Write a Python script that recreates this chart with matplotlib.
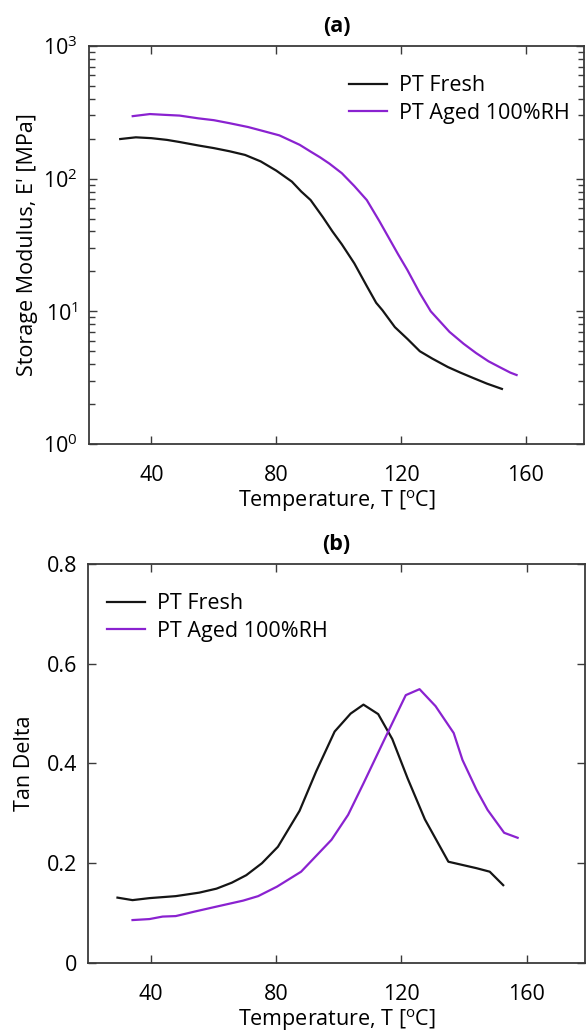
import matplotlib
matplotlib.use("Agg")
import matplotlib.pyplot as plt
from matplotlib.ticker import LogLocator, FixedLocator, NullFormatter

plt.rcParams["font.family"] = ["Open Sans", "DejaVu Sans"]
plt.rcParams["mathtext.fontset"] = "custom"
plt.rcParams["mathtext.rm"] = "Open Sans"
plt.rcParams["mathtext.it"] = "Open Sans"
plt.rcParams["mathtext.default"] = "regular"

# Storage modulus E' [MPa]
temp_fresh_e = [30, 35, 40, 45, 49, 55, 60, 65, 70, 75, 80, 85, 88, 91, 95, 98,
                101, 105, 109, 112, 114, 118, 122, 126, 130, 135, 139, 143, 147.5, 152.3]
e_fresh = [199, 205, 202, 196, 189, 178, 170, 161, 151, 135, 115, 95, 80, 69, 51, 40,
           32, 23, 15.5, 11.6, 10.2, 7.6, 6.2, 5.0, 4.4, 3.8, 3.45, 3.15, 2.85, 2.6]

temp_aged_e = [34, 39.5, 44, 49, 55, 60, 65, 71, 76, 81, 87.5, 91, 94, 97, 101, 105,
               109, 113, 116, 119, 122, 126, 129.5, 135.5, 140, 144, 148, 152, 155, 157]
e_aged = [296, 307, 303, 299, 285, 276, 262, 245, 228, 212, 180, 160, 145, 130, 110, 88,
          69, 48, 36, 27, 20.5, 13.7, 10.0, 7.0, 5.7, 4.85, 4.2, 3.75, 3.45, 3.31]

# Tan delta
temp_fresh_tan = [29.4, 34.2, 39.6, 48, 55.5, 61, 65.9, 70.5, 75.5, 80.6, 87.5, 92.8,
                  98.7, 103.8, 107.9, 112.6, 117.1, 122, 127.5, 135, 144, 148.2, 152.5]
tan_fresh = [0.131, 0.126, 0.130, 0.134, 0.141, 0.149, 0.161, 0.176, 0.200, 0.233,
             0.305, 0.384, 0.464, 0.500, 0.518, 0.499, 0.449, 0.370, 0.288, 0.203,
             0.190, 0.183, 0.156]

temp_aged_tan = [34.2, 39.6, 43.8, 48, 54, 61, 69.5, 74.3, 80.3, 88, 97.7, 103, 107.9,
                 114.5, 121.4, 125.8, 130.9, 136.7, 139.5, 144, 147.5, 152.8, 157.1]
tan_aged = [0.086, 0.088, 0.093, 0.094, 0.103, 0.113, 0.125, 0.134, 0.153, 0.183,
            0.247, 0.297, 0.360, 0.447, 0.537, 0.549, 0.515, 0.461, 0.407, 0.347,
            0.307, 0.261, 0.251]

x_ticks = [40, 80, 120, 160]
tan_ticks = [0, 0.2, 0.4, 0.6, 0.8]
tan_labels = ["0", "0.2", "0.4", "0.6", "0.8"]

BLACK = "#151515"
PURPLE = "#8a22d0"
SPINE = "#3a3a3a"
FS = 15.5

fig = plt.figure(figsize=(5.88, 10.32), dpi=100)
ax1 = fig.add_axes([0.1514, 0.5698, 0.9932 - 0.1514, 0.9554 - 0.5698])
ax2 = fig.add_axes([0.1497, 0.0669, 0.9949 - 0.1497, 0.4535 - 0.0669])

for ax in (ax1, ax2):
    for s in ax.spines.values():
        s.set_color(SPINE)
        s.set_linewidth(1.3)
    ax.tick_params(which="both", direction="in", top=True, right=True,
                   color=SPINE, labelsize=FS, width=1.0)
    ax.tick_params(which="major", length=6)
    ax.tick_params(which="minor", length=4)
    ax.tick_params(axis="x", which="major", pad=15)
    ax.tick_params(axis="y", which="major", pad=8)
    ax.set_xlim(20, 178.6)
    ax.xaxis.set_major_locator(FixedLocator(x_ticks))
    ax.set_xlabel("Temperature, T [$^{o}$C]", fontsize=FS, labelpad=2)

# (a) storage modulus
ax1.plot(temp_fresh_e, e_fresh, color=BLACK, lw=1.6, label="PT Fresh")
ax1.plot(temp_aged_e, e_aged, color=PURPLE, lw=1.6, label="PT Aged 100%RH")
ax1.set_yscale("log")
ax1.set_ylim(1, 1000)
ax1.yaxis.set_major_locator(LogLocator(base=10, numticks=10))
ax1.yaxis.set_minor_locator(LogLocator(base=10, subs=range(2, 10), numticks=10))
ax1.yaxis.set_minor_formatter(NullFormatter())
ax1.set_ylabel("Storage Modulus, E' [MPa]", fontsize=FS, labelpad=4)
ax1.set_title("(a)", fontsize=FS, fontweight="bold", pad=10)
ax1.legend(loc="upper right", bbox_to_anchor=(1.01, 0.975), frameon=False,
           fontsize=FS, handlelength=1.75, handletextpad=0.55, labelspacing=0.3)

# (b) tan delta
ax2.plot(temp_fresh_tan, tan_fresh, color=BLACK, lw=1.6, label="PT Fresh")
ax2.plot(temp_aged_tan, tan_aged, color=PURPLE, lw=1.6, label="PT Aged 100%RH")
ax2.set_ylim(0, 0.8)
ax2.yaxis.set_major_locator(FixedLocator(tan_ticks))
ax2.set_yticklabels(tan_labels)
ax2.set_ylabel("Tan Delta", fontsize=FS, labelpad=8)
ax2.set_title("(b)", fontsize=FS, fontweight="bold", pad=10)
ax2.legend(loc="upper left", bbox_to_anchor=(0.0, 0.975), frameon=False,
           fontsize=FS, handlelength=1.75, handletextpad=0.55, labelspacing=0.3)

fig.savefig("out.png", dpi=100)
